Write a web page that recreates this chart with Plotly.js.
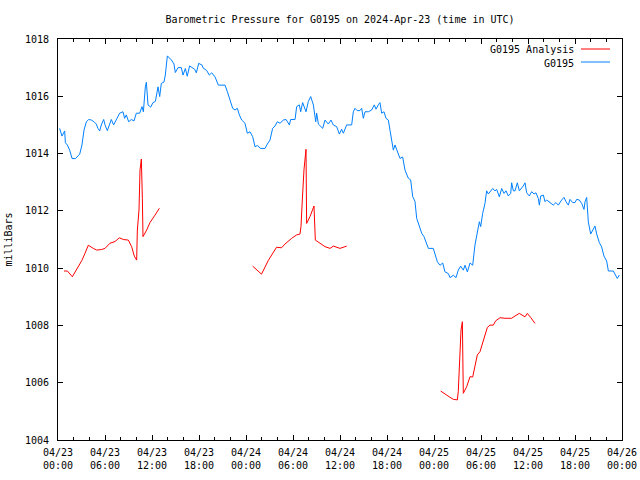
<!DOCTYPE html>
<html>
<head>
<meta charset="utf-8">
<script src="https://cdn.plot.ly/plotly-3.0.1.min.js"></script>
<style>html,body{margin:0;padding:0;background:#fff}#chart{width:640px;height:480px}</style>
</head>
<body>
<div id="chart"></div>
<script>
// Hours since 2024-04-23 00:00 UTC
const stationHours = [0.21,0.51,0.85,0.94,1.19,1.49,1.79,2.21,2.77,3.06,3.32,3.62,3.91,4.26,4.6,4.89,5.1,5.32,5.53,5.83,6.04,6.3,6.6,6.81,7.1,7.32,7.57,7.87,8.3,8.5,8.72,9.02,9.36,9.7,10.0,10.43,10.72,10.9,11.15,11.28,11.49,11.83,12.13,12.43,12.77,12.98,13.19,13.53,13.7,13.96,14.47,14.8,14.98,15.32,15.74,15.96,16.26,16.5,16.8,17.1,17.45,17.66,17.96,18.38,18.55,18.98,19.32,19.62,20.04,20.47,21.32,21.62,21.96,22.3,22.6,22.9,23.15,23.45,23.87,24.17,24.51,24.85,25.15,25.45,25.87,26.43,26.72,27.06,27.4,27.7,28.0,28.34,28.77,29.11,29.54,29.7,30.26,30.47,30.81,30.98,31.23,31.66,31.96,32.26,32.6,32.9,33.02,33.24,33.79,34.09,34.51,34.85,35.15,35.57,35.92,36.21,36.43,36.64,36.85,37.49,37.7,37.91,38.2,38.55,38.77,38.98,39.19,39.62,40.04,40.38,40.6,40.89,41.1,41.32,41.62,41.87,42.17,42.38,42.6,42.81,43.02,43.32,43.66,44.0,44.3,44.72,45.02,45.28,45.57,45.79,46.13,46.43,46.72,46.98,47.28,47.91,48.13,48.43,48.77,49.11,49.4,49.83,50.04,50.47,50.81,51.1,51.4,51.74,51.96,52.26,52.6,52.94,53.23,53.53,53.79,53.96,54.21,54.51,54.72,54.94,55.23,55.49,55.79,56.0,56.34,56.64,56.94,57.19,57.49,57.79,57.91,58.13,58.34,58.64,58.89,59.19,59.4,59.62,59.83,60.17,60.47,60.77,61.02,61.32,61.45,61.62,61.96,62.17,62.38,62.81,63.23,63.57,63.87,64.3,64.6,64.85,65.15,65.36,65.7,66.0,66.21,66.55,66.85,67.15,67.28,67.49,67.7,68.0,68.26,68.55,68.77,69.11,69.4,69.7,70.04,70.26,70.89,71.1,71.4,71.66];
const stationPressure = [1014.88,1014.61,1014.79,1014.38,1014.3,1014.12,1013.83,1013.82,1013.98,1014.3,1014.82,1015.11,1015.19,1015.17,1015.11,1015.03,1014.88,1014.79,1015.0,1015.19,1014.97,1014.8,1015.03,1015.19,1015.0,1015.11,1015.23,1015.41,1015.46,1015.23,1015.35,1015.11,1015.19,1015.14,1015.41,1015.41,1015.64,1015.46,1016.33,1016.49,1015.7,1015.62,1015.78,1015.82,1016.33,1015.99,1016.45,1016.5,1016.74,1017.41,1017.27,1017.13,1016.83,1017.0,1017.0,1016.74,1016.97,1016.7,1017.06,1017.0,1016.94,1016.82,1017.15,1017.09,1016.98,1016.9,1016.74,1016.82,1016.68,1016.39,1016.39,1016.16,1015.87,1015.58,1015.52,1015.58,1015.35,1015.17,1015.06,1014.71,1014.76,1014.59,1014.24,1014.28,1014.18,1014.18,1014.33,1014.47,1014.88,1014.96,1015.11,1015.06,1015.17,1015.19,1015.0,1015.19,1015.19,1015.64,1015.7,1015.46,1015.78,1015.46,1015.82,1015.99,1015.7,1015.11,1015.41,1015.03,1014.88,1015.17,1015.03,1015.17,1015.0,1014.94,1014.68,1014.85,1014.71,1014.88,1015.0,1015.0,1015.46,1015.58,1015.5,1015.5,1015.58,1015.23,1015.46,1015.46,1015.52,1015.7,1015.55,1015.7,1015.78,1015.41,1015.46,1015.23,1015.17,1014.82,1014.47,1014.12,1014.3,1014.07,1013.83,1013.88,1013.42,1013.14,1013.08,1012.5,1012.33,1011.74,1011.5,1011.22,1011.1,1010.87,1010.69,1010.69,1010.45,1010.22,1010.1,1010.18,1009.87,1009.81,1009.67,1009.75,1009.67,1009.93,1010.07,1009.93,1010.1,1009.87,1010.18,1010.1,1010.81,1011.33,1011.62,1011.45,1011.91,1012.26,1012.7,1012.59,1012.7,1012.78,1012.7,1012.75,1012.49,1012.78,1012.61,1012.7,1012.52,1012.61,1012.98,1012.7,1012.7,1012.98,1012.7,1012.78,1012.87,1012.98,1012.63,1012.52,1012.67,1012.59,1012.63,1012.43,1012.2,1012.52,1012.55,1012.32,1012.38,1012.29,1012.2,1012.29,1012.2,1012.38,1012.47,1012.32,1012.2,1012.4,1012.29,1012.29,1012.4,1012.38,1012.26,1012.05,1012.32,1012.47,1011.62,1011.19,1011.33,1011.47,1011.19,1010.89,1010.74,1010.42,1010.25,1009.9,1009.9,1009.78,1009.64,1009.76];

// Analysis series (null marks a gap between runs)
const analysisHours = [0.77,1.2,1.83,2.6,3.03,3.45,3.87,4.5,4.94,5.57,6.0,6.64,7.28,7.83,8.34,8.98,9.4,9.74,10.04,10.13,10.34,10.47,10.64,10.77,10.85,11.32,11.74,12.38,12.94,
  null,
  24.85,25.98,26.83,27.9,28.54,28.97,29.82,30.46,30.89,31.02,31.19,31.4,31.66,31.74,32.17,32.68,32.85,33.45,34.09,34.73,35.15,36.0,36.86,
  null,
  48.85,49.4,50.04,50.47,50.98,51.1,51.32,51.45,51.62,51.74,52.17,52.6,52.94,53.23,53.53,53.87,54.17,54.51,54.81,55.15,55.57,55.87,56.43,57.06,57.91,58.34,58.89,59.62,59.91,60.34,60.89];
const analysisPressure = [1009.9,1009.9,1009.7,1010.07,1010.26,1010.52,1010.8,1010.69,1010.63,1010.65,1010.69,1010.87,1010.93,1011.06,1011.0,1010.98,1010.75,1010.42,1010.28,1011.33,1012.03,1013.43,1013.81,1012.44,1011.1,1011.33,1011.59,1011.85,1012.09,
  null,
  1010.07,1009.79,1010.26,1010.73,1010.71,1010.84,1011.04,1011.16,1011.19,1011.45,1012.38,1013.43,1014.15,1011.56,1011.8,1012.17,1010.98,1010.87,1010.75,1010.69,1010.77,1010.69,1010.77,
  null,
  1005.71,1005.6,1005.49,1005.42,1005.4,1005.69,1006.79,1007.84,1008.13,1005.63,1005.86,1006.21,1006.2,1006.56,1006.97,1007.08,1007.37,1007.66,1007.93,1008.01,1008.01,1008.16,1008.27,1008.25,1008.25,1008.33,1008.42,1008.3,1008.42,1008.28,1008.07];

const xTickHours = [0,6,12,18,24,30,36,42,48,54,60,66,72];
const xTickLabels = ["04/23<br>00:00","04/23<br>06:00","04/23<br>12:00","04/23<br>18:00","04/24<br>00:00","04/24<br>06:00","04/24<br>12:00","04/24<br>18:00","04/25<br>00:00","04/25<br>06:00","04/25<br>12:00","04/25<br>18:00","04/26<br>00:00"];
const seriesNames = ["G0195 Analysis","G0195"];
const seriesColors = ["#ff0000","#0080ff"];

const mono = "DejaVu Sans Mono, monospace";

const traces = [
  {x: analysisHours, y: analysisPressure, type: "scatter", mode: "lines", name: seriesNames[0],
   line: {color: seriesColors[0], width: 1}, connectgaps: false, showlegend: false},
  {x: stationHours, y: stationPressure, type: "scatter", mode: "lines", name: seriesNames[1],
   line: {color: seriesColors[1], width: 1}, showlegend: false}
];

const layout = {
  width: 640, height: 480,
  margin: {l: 58, r: 18, t: 39, b: 40, pad: 0},
  paper_bgcolor: "#fff", plot_bgcolor: "#fff",
  font: {family: mono, size: 10, color: "#000"},
  title: {text: "Barometric Pressure for G0195 on 2024-Apr-23 (time in UTC)",
          font: {family: mono, size: 10, color: "#000"},
          xref: "paper", x: 0.5, xanchor: "center", yref: "container", y: 1 - 19/480, yanchor: "middle"},
  xaxis: {
    range: [0, 72], tickmode: "array", tickvals: xTickHours, ticktext: xTickLabels,
    ticks: "inside", ticklen: 5, tickwidth: 1, tickcolor: "#000",
    showline: true, linecolor: "#000", linewidth: 1, mirror: "ticks",
    showgrid: false, zeroline: false, ticklabelstandoff: 3,
    tickfont: {family: mono, size: 10, color: "#000"},
    minor: {tickmode: "linear", tick0: 0, dtick: 2, ticks: "inside", ticklen: 3, tickcolor: "#000", showgrid: false}
  },
  yaxis: {
    range: [1004, 1018], dtick: 2, tick0: 1004,
    ticks: "inside", ticklen: 5, tickwidth: 1, tickcolor: "#000",
    showline: true, linecolor: "#000", linewidth: 1, mirror: "ticks",
    showgrid: false, zeroline: false, ticklabelstandoff: 6,
    tickfont: {family: mono, size: 10, color: "#000"},
    title: {text: "milliBars", font: {family: mono, size: 10, color: "#000"}, standoff: 10}
  },
  showlegend: false,
  annotations: [
    {xref: "paper", yref: "paper", x: (576-58)/564, y: 1 - (50-39)/401, xanchor: "right", yanchor: "middle",
     text: seriesNames[0], showarrow: false, font: {family: mono, size: 10, color: "#000"}},
    {xref: "paper", yref: "paper", x: (576-58)/564, y: 1 - (63-39)/401, xanchor: "right", yanchor: "middle",
     text: seriesNames[1], showarrow: false, font: {family: mono, size: 10, color: "#000"}}
  ],
  shapes: [
    {type: "line", xref: "paper", yref: "paper", x0: (581-58)/564, x1: (610-58)/564,
     y0: 1 - (49-39)/401, y1: 1 - (49-39)/401, line: {color: seriesColors[0], width: 1}},
    {type: "line", xref: "paper", yref: "paper", x0: (581-58)/564, x1: (610-58)/564,
     y0: 1 - (62-39)/401, y1: 1 - (62-39)/401, line: {color: seriesColors[1], width: 1}}
  ]
};

Plotly.newPlot("chart", traces, layout, {staticPlot: true, displayModeBar: false});
</script>
</body>
</html>
